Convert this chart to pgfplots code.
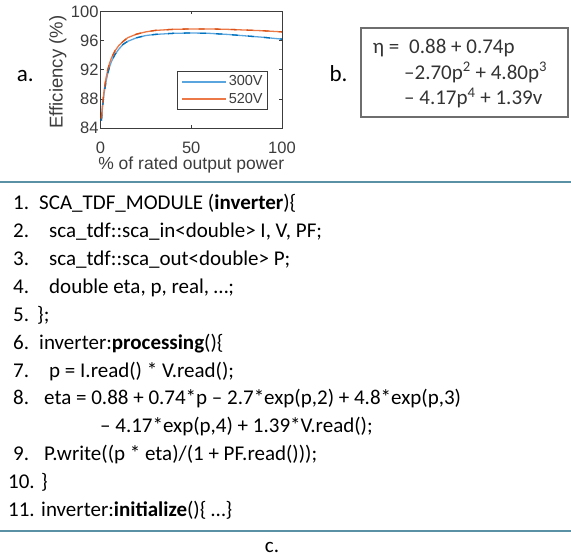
\documentclass[border=0pt]{standalone}
\usepackage{pgfplots}
\pgfplotsset{compat=1.18}
\usepackage{fontspec}
\setmainfont{Carlito}
\newfontfamily\arial{Liberation Sans}

\definecolor{axgray}{RGB}{60,60,60}
\definecolor{boxgray}{RGB}{110,110,110}
\definecolor{rulecol}{RGB}{91,145,165}
\definecolor{blueL}{RGB}{90,165,222}
\definecolor{blueD}{RGB}{0,114,189}
\definecolor{orangeL}{RGB}{235,120,70}
\definecolor{orangeD}{RGB}{217,83,25}

% efficiency vs % of rated output power
\pgfplotstableread{
p    eff
0.5  85.0
1    86.6
2    88.8
3    90.3
4    91.5
5    92.4
6    93.1
8    94.1
10   94.8
12.5 95.5
15   95.9
20   96.4
25   96.7
30   96.85
40   97.0
50   97.05
60   97.0
70   96.85
80   96.65
90   96.45
100  96.2
}\vthree

\pgfplotstableread{
p    eff
0.5  85.3
1    86.9
2    89.2
3    90.8
4    92.0
5    92.9
6    93.6
8    94.6
10   95.3
12.5 95.9
15   96.4
20   96.9
25   97.2
30   97.4
40   97.55
50   97.6
60   97.6
70   97.55
80   97.45
90   97.35
100  97.2
}\vfive

\newcommand{\cs}{\fontsize{21}{25}\selectfont}

\begin{document}
\begin{tikzpicture}

\begin{axis}[
  at={(100.5pt,429pt)}, anchor=south west,
  scale only axis, width=181.5pt, height=116.5pt,
  xmin=0, xmax=100, ymin=84, ymax=100,
  xtick={0,50,100}, ytick={84,88,92,96,100},
  xticklabel={\pgfmathprintnumber{\tick}},
  yticklabel={\pgfmathprintnumber{\tick}},
  tick align=inside, major tick length=3pt,
  axis line style={axgray, line width=0.7pt},
  tick style={axgray, line width=0.6pt},
  tick label style={font=\arial\fontsize{16.5}{16.5}\selectfont, text=axgray},
  xticklabel style={yshift=-10pt},
  yticklabel style={xshift=1.5pt},
  /pgf/number format/assume math mode=true,
  xlabel={\% of rated output power},
  ylabel={Efficiency (\%)},
  xlabel style={font=\arial\fontsize{17.5}{17.5}\selectfont, text=axgray,
    at={(axis description cs:0.5,0)}, anchor=base, yshift=-41.5pt},
  ylabel style={font=\arial\fontsize{18.5}{18.5}\selectfont, text=axgray,
    at={(axis description cs:-0.235,0.48)}, anchor=center},
  legend style={at={(axis description cs:0.923,0.49)}, anchor=north east,
    draw=axgray, line width=0.8pt, font=\arial\fontsize{14.5}{14.5}\selectfont,
    text=axgray, inner xsep=3pt, inner ysep=2.5pt, row sep=2pt},
  legend image code/.code={\draw[#1, line width=2pt] (0pt,0pt) -- (44pt,0pt);},
  legend cell align=left,
]
\addplot[blueL, line width=1.3pt] table[x=p, y=eff] {\vthree};
\addlegendentry{300V}
\addplot[orangeL, line width=1.3pt] table[x=p, y=eff] {\vfive};
\addlegendentry{520V}
\addplot[blueD, line width=1.3pt, dash pattern=on 6pt off 10pt, forget plot] table[x=p, y=eff] {\vthree};
\addplot[orangeD, line width=1.3pt, dash pattern=on 6pt off 10pt, forget plot] table[x=p, y=eff] {\vfive};
\end{axis}

\begin{scope}[x=1pt, y=1pt, every node/.style={inner sep=0pt, anchor=base west}]
  % labels a. and b.
  \node[font=\fontsize{23}{23}\selectfont] at (16.7, 475.3) {a.};
  \node[font=\fontsize{23}{23}\selectfont] at (329.3, 475.3) {b.};

  % equation box
  \draw[boxgray, line width=1.2pt] (361, 529) rectangle (568, 440);
  \begin{scope}[every node/.append style={font=\cs, text=black!80}]
    \node at (372.7, 503.7) {η =};
    \node at (409, 503.7) {0.88 + 0.74p};
    \node at (404, 477.7) {–2.70p\textsuperscript{2} + 4.80p\textsuperscript{3}};
    \node at (404, 452) {– 4.17p\textsuperscript{4} + 1.39v};
  \end{scope}

  % rules
  \draw[rulecol, line width=2pt] (0, 375) -- (571, 375);
  \draw[rulecol, line width=2pt] (0, 26) -- (571, 26);

  % code listing
  \begin{scope}[every node/.append style={font=\cs}]
    \node at (13, 347.5) {1.};  \node at (39, 347.5) {SCA\_TDF\_MODULE (\textbf{inverter})\{};
    \node at (13, 319.5) {2.};  \node at (49, 319.5) {sca\_tdf::sca\_in<double> I, V, PF;};
    \node at (13, 291.5) {3.};  \node at (49, 291.5) {sca\_tdf::sca\_out<double> P;};
    \node at (13, 263.5) {4.};  \node at (49, 263.5) {double eta, p, real, …;};
    \node at (13, 235.5) {5.};  \node at (37, 235.5) {\};};
    \node at (13, 207.5) {6.};  \node at (39, 207.5) {inverter:\textbf{processing}()\{};
    \node at (13, 179.5) {7.};  \node at (49, 179.5) {p = I.read() * V.read();};
    \node at (13, 152)   {8.};  \node at (44, 152) {eta = 0.88 + 0.74*p – 2.7*exp(p,2) + 4.8*exp(p,3)};
    \node at (100, 124)  {– 4.17*exp(p,4) + 1.39*V.read();};
    \node at (13, 96)    {9.};  \node at (44, 96) {P.write((p * eta)/(1 + PF.read()));};
    \node at (8, 68.5)   {10.}; \node at (41, 68.5) {\}};
    \node at (8, 40.5)   {11.}; \node at (41, 40.5) {inverter:\textbf{initialize}()\{ …\}};
    \node[anchor=base] at (272, 4.3) {c.};
  \end{scope}
\end{scope}

\pgfresetboundingbox
\path (0pt,0pt) rectangle (571pt,557pt);
\end{tikzpicture}
\end{document}
